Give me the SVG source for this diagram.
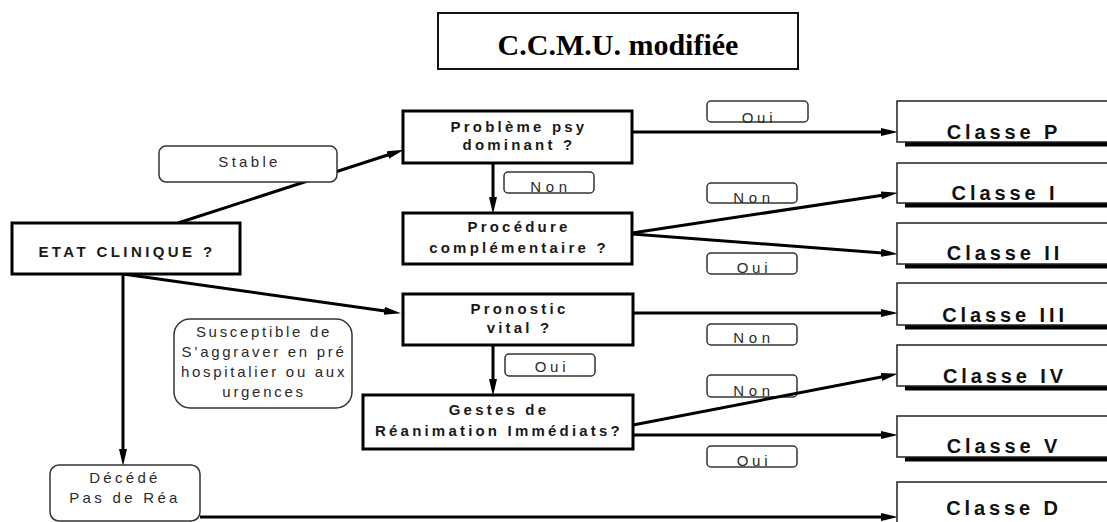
<svg xmlns="http://www.w3.org/2000/svg" width="1107" height="522" viewBox="0 0 1107 522">
<style>
.bg{fill:#fff}
.dec{fill:#fff;stroke:#000;stroke-width:3}
.lbl{fill:#fff;stroke:#333;stroke-width:1.5}
.cls{fill:#fff;stroke:#222;stroke-width:1.5}
.shd{fill:#000}
.tb{font-family:"Liberation Sans",Arial,sans-serif;font-weight:bold;font-size:15px;letter-spacing:3.2px;fill:#1a1a1a;text-anchor:middle}
.tr{font-family:"Liberation Sans",Arial,sans-serif;font-size:15px;fill:#2a2a2a;text-anchor:middle}
.tc{font-family:"Liberation Sans",Arial,sans-serif;font-weight:bold;font-size:20px;letter-spacing:3.9px;fill:#111;text-anchor:middle}
.tt{font-family:"Liberation Serif","Times New Roman",serif;font-weight:bold;font-size:30px;fill:#000;text-anchor:middle}
.con{fill:none;stroke:#000;stroke-width:3;marker-end:url(#ah)}
</style>
<defs>
<marker id="ah" markerUnits="userSpaceOnUse" markerWidth="18" markerHeight="10" refX="8" refY="4" orient="auto">
<path d="M0,0 L17,4 L0,8 z" fill="#000"/>
</marker>
</defs>
<rect class="bg" x="0" y="0" width="1107" height="522"/>

<g id="title">
<rect x="438" y="13" width="360" height="56" fill="#fff" stroke="#111" stroke-width="2"/>
<text class="tt" x="618" y="55">C.C.M.U. modifiée</text>
</g>

<g id="edge-labels">
<g id="lbl-oui-p"><rect class="lbl" x="707" y="101" width="101" height="21" rx="4"/><text class="tr" style="letter-spacing:3.8px" x="759" y="123">Oui</text></g>
<g id="lbl-non-1"><rect class="lbl" x="707" y="183" width="90" height="20" rx="4"/><text class="tr" style="letter-spacing:4.6px" x="754" y="203">Non</text></g>
<g id="lbl-oui-2"><rect class="lbl" x="707" y="253" width="90" height="21" rx="4"/><text class="tr" style="letter-spacing:3.8px" x="754" y="273">Oui</text></g>
<g id="lbl-non-pp"><rect class="lbl" x="504" y="172" width="90" height="21" rx="4"/><text class="tr" style="letter-spacing:4.6px" x="551" y="192">Non</text></g>
<g id="lbl-non-3"><rect class="lbl" x="707" y="324" width="90" height="21" rx="4"/><text class="tr" style="letter-spacing:4.6px" x="754" y="343">Non</text></g>
<g id="lbl-oui-pg"><rect class="lbl" x="505" y="354" width="90" height="22" rx="4"/><text class="tr" style="letter-spacing:3.8px" x="552" y="372">Oui</text></g>
<g id="lbl-non-4"><rect class="lbl" x="707" y="375" width="90" height="22" rx="4"/><text class="tr" style="letter-spacing:4.6px" x="754" y="396">Non</text></g>
<g id="lbl-oui-5"><rect class="lbl" x="707" y="446" width="90" height="21" rx="4"/><text class="tr" style="letter-spacing:3.8px" x="754" y="466">Oui</text></g>
</g>

<g id="connectors">
<path class="con" d="M178,223 L395.4,152.5"/>
<path class="con" d="M123,274 L392.1,311.9"/>
<path class="con" d="M123,274 L123,457"/>
<path class="con" d="M632,132 L889,132"/>
<path class="con" d="M493,163 L493,205"/>
<path class="con" d="M632,233 L889.1,194.2"/>
<path class="con" d="M632,234 L889,253.4"/>
<path class="con" d="M633,313 L889,313"/>
<path class="con" d="M493,345 L493,387"/>
<path class="con" d="M633,425 L889.1,375.5"/>
<path class="con" d="M633,435 L889,435"/>
<path class="con" d="M200,517 L889,517"/>
</g>

<g id="stable">
<rect class="lbl" x="159" y="146" width="178" height="36" rx="7"/>
<text class="tr" style="letter-spacing:3.3px" x="249.5" y="167">Stable</text>
</g>

<g id="etat">
<rect class="dec" x="12" y="223" width="228" height="51"/>
<text class="tb" style="letter-spacing:3.4px" x="127" y="257">ETAT CLINIQUE ?</text>
</g>

<g id="probleme">
<rect class="dec" x="403" y="111" width="229" height="52"/>
<text class="tb" x="519" y="132">Problème psy</text>
<text class="tb" x="519" y="150">dominant ?</text>
</g>

<g id="procedure">
<rect class="dec" x="403" y="213" width="229" height="51"/>
<text class="tb" x="519" y="232">Procédure</text>
<text class="tb" x="519" y="253">complémentaire ?</text>
</g>

<g id="pronostic">
<rect class="dec" x="403" y="294" width="230" height="51"/>
<text class="tb" x="519.5" y="314">Pronostic</text>
<text class="tb" x="519.5" y="333">vital ?</text>
</g>

<g id="gestes">
<rect class="dec" x="363" y="395" width="270" height="54"/>
<text class="tb" x="499" y="415">Gestes de</text>
<text class="tb" x="499" y="436">Réanimation Immédiats?</text>
</g>

<g id="susceptible">
<rect class="lbl" x="174" y="319" width="178" height="89" rx="16"/>
<text class="tr" style="letter-spacing:2.7px" x="264" y="337">Susceptible de</text>
<text class="tr" style="letter-spacing:2.7px" x="264" y="357">S’aggraver en pré</text>
<text class="tr" style="letter-spacing:2.7px" x="264" y="377">hospitalier ou aux</text>
<text class="tr" style="letter-spacing:2.7px" x="264" y="397">urgences</text>
</g>

<g id="decede">
<rect class="lbl" x="50" y="465" width="150" height="56" rx="9"/>
<text class="tr" style="letter-spacing:3.3px" x="125" y="483">Décédé</text>
<text class="tr" style="letter-spacing:3.3px" x="125" y="503">Pas de Réa</text>
</g>

<g id="classe-p"><rect class="shd" x="905" y="105.5" width="215" height="41"/><rect class="cls" x="897" y="101" width="215" height="41"/><text class="tc" x="1004" y="139">Classe P</text></g>
<g id="classe-i"><rect class="shd" x="905" y="167.5" width="215" height="40"/><rect class="cls" x="897" y="163" width="215" height="40"/><text class="tc" x="1005" y="200">Classe I</text></g>
<g id="classe-ii"><rect class="shd" x="905" y="227.5" width="215" height="41"/><rect class="cls" x="897" y="223" width="215" height="41"/><text class="tc" x="1005" y="260">Classe II</text></g>
<g id="classe-iii"><rect class="shd" x="905" y="287.5" width="215" height="42"/><rect class="cls" x="897" y="283" width="215" height="42"/><text class="tc" x="1005" y="322">Classe III</text></g>
<g id="classe-iv"><rect class="shd" x="905" y="349.5" width="215" height="41"/><rect class="cls" x="897" y="345" width="215" height="41"/><text class="tc" x="1005" y="383">Classe IV</text></g>
<g id="classe-v"><rect class="shd" x="905" y="420.5" width="215" height="41"/><rect class="cls" x="897" y="416" width="215" height="41"/><text class="tc" x="1004" y="453">Classe V</text></g>
<g id="classe-d"><rect class="shd" x="905" y="486.5" width="215" height="50"/><rect class="cls" x="897" y="482" width="215" height="50"/><text class="tc" x="1004" y="515">Classe D</text></g>
</svg>
